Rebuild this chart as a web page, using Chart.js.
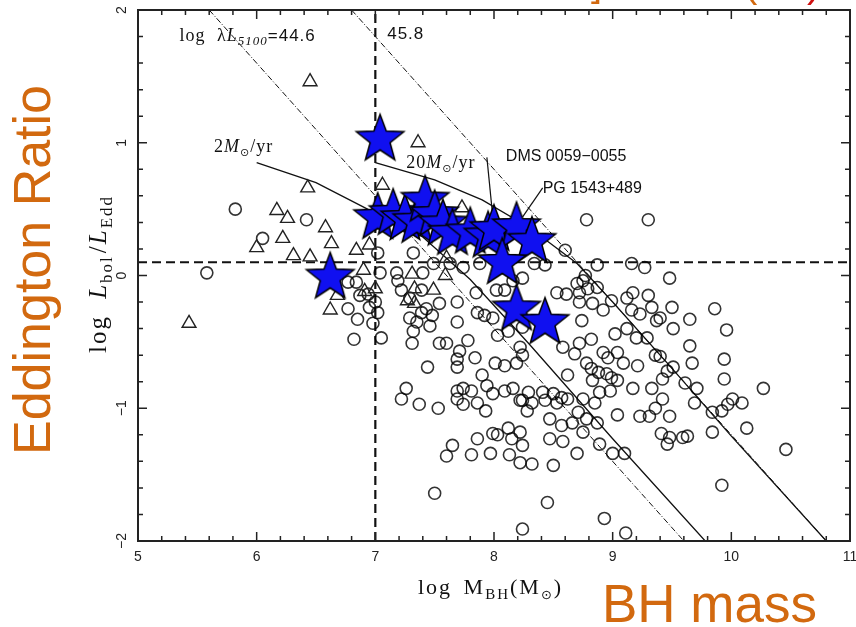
<!DOCTYPE html>
<html>
<head>
<meta charset="utf-8">
<script src="https://cdn.jsdelivr.net/npm/chart.js@4.4.1/dist/chart.umd.min.js"></script>
<style>
html, body { margin: 0; padding: 0; background: #fff; }
</style>
</head>
<body>
<canvas id="chart" width="856" height="627"></canvas>
<script>

// log M_BH, log L_bol/L_Edd
var starPoints = [
	[7.04, 1.04], [6.62, 0.00], [7.02, 0.45], [7.15, 0.48], [7.25, 0.44], [7.35, 0.42],
	[7.42, 0.58], [7.50, 0.47], [7.57, 0.40], [7.65, 0.33], [7.80, 0.34], [7.95, 0.31],
	[8.00, 0.36], [8.19, 0.38], [8.32, 0.27], [8.07, 0.11], [8.19, -0.24], [8.43, -0.34]
];

var trianglePoints = [
	[6.45, 1.46], [7.36, 1.00], [6.43, 0.66], [7.06, 0.68], [6.17, 0.49], [6.26, 0.43],
	[6.58, 0.36], [6.00, 0.21], [6.22, 0.28], [6.63, 0.24], [6.84, 0.19], [6.95, 0.23],
	[6.31, 0.15], [6.45, 0.14], [7.73, 0.51], [7.60, 0.13], [5.43, -0.36], [6.90, 0.04],
	[6.68, -0.15], [6.62, -0.26], [6.91, -0.12], [7.00, -0.10], [7.31, 0.01], [7.33, -0.10],
	[7.27, -0.19], [7.49, -0.11], [7.59, 0.00], [7.33, -0.21]
];

var circlePoints = [
	[5.82, 0.50], [6.42, 0.42], [6.05, 0.28], [5.58, 0.02], [6.77, -0.05], [6.84, -0.05],
	[6.87, -0.15], [6.94, -0.14], [6.95, -0.24], [6.77, -0.25], [6.85, -0.33], [6.82, -0.48],
	[6.98, -0.36], [7.02, 0.17], [7.32, 0.17], [7.49, 0.09], [7.63, 0.09], [7.74, 0.06],
	[7.88, 0.09], [7.04, 0.02], [7.18, 0.02], [7.19, -0.04], [7.40, 0.02], [7.00, -0.20],
	[7.02, -0.28], [7.05, -0.47], [7.22, -0.11], [7.29, -0.17], [7.39, -0.11], [7.43, -0.25],
	[7.48, -0.30], [7.54, -0.21], [7.39, -0.28], [7.35, -0.35], [7.46, -0.38], [7.29, -0.32],
	[7.32, -0.42], [7.31, -0.51], [7.54, -0.51], [7.60, -0.51], [7.78, -0.49], [7.71, -0.57],
	[7.69, -0.63], [7.84, -0.62], [7.69, -0.69], [7.44, -0.69], [7.69, -0.20], [7.69, -0.35],
	[7.85, -0.13], [7.86, -0.28], [7.92, -0.30], [8.02, -0.11], [7.99, -0.32], [8.03, -0.45],
	[8.12, -0.42], [8.24, -0.39], [8.22, -0.54], [8.24, -0.60], [8.01, -0.66], [8.09, -0.68],
	[8.19, -0.66], [7.90, -0.75], [7.94, -0.83], [7.26, -0.85], [7.22, -0.93], [7.37, -0.97],
	[7.53, -1.00], [7.69, -0.87], [7.74, -0.85], [7.81, -0.87], [7.69, -0.93], [7.74, -0.97],
	[7.86, -0.96], [7.93, -1.02], [7.99, -0.89], [8.09, -0.87], [8.16, -0.85], [8.22, -0.94],
	[8.28, -1.02], [7.86, -1.23], [7.99, -1.19], [8.03, -1.20], [8.12, -1.15], [8.15, -1.23],
	[8.22, -1.18], [8.24, -1.28], [7.65, -1.28], [7.60, -1.36], [7.81, -1.35], [7.97, -1.34],
	[8.13, -1.35], [8.22, -1.41], [7.50, -1.64], [8.24, -1.91], [8.09, -0.11], [8.16, -0.04],
	[8.24, -0.02], [8.34, 0.09], [8.43, 0.08], [8.60, 0.19], [8.78, 0.42], [9.30, 0.42],
	[8.87, 0.08], [9.16, 0.09], [9.27, 0.06], [8.77, 0.00], [9.48, -0.02], [8.70, -0.06],
	[8.75, -0.04], [8.53, -0.13], [8.61, -0.14], [8.72, -0.13], [8.79, -0.10], [8.87, -0.09],
	[8.72, -0.20], [8.83, -0.21], [8.92, -0.26], [8.99, -0.19], [9.12, -0.17], [9.17, -0.13],
	[9.30, -0.15], [9.33, -0.24], [9.40, -0.32], [9.50, -0.24], [9.51, -0.40], [9.23, -0.29],
	[8.74, -0.34], [9.02, -0.44], [9.12, -0.40], [9.16, -0.26], [9.20, -0.47], [9.29, -0.47],
	[9.37, -0.34], [9.36, -0.60], [9.40, -0.61], [9.46, -0.72], [9.51, -0.69], [8.58, -0.54],
	[8.68, -0.59], [8.72, -0.51], [8.82, -0.48], [8.92, -0.58], [8.96, -0.62], [9.04, -0.58],
	[9.09, -0.66], [9.21, -0.68], [8.78, -0.66], [8.82, -0.70], [8.88, -0.73], [8.95, -0.74],
	[8.99, -0.77], [9.04, -0.79], [8.62, -0.75], [8.83, -0.79], [9.17, -0.85], [9.33, -0.85],
	[9.42, -0.78], [8.29, -0.88], [8.41, -0.88], [8.50, -0.89], [8.57, -0.92], [8.62, -0.93],
	[8.75, -0.93], [8.85, -0.96], [8.89, -0.88], [8.98, -0.87], [9.42, -0.93], [9.36, -1.00],
	[9.31, -1.06], [9.23, -1.06], [9.48, -1.06], [9.04, -1.05], [8.24, -0.94], [8.32, -0.96],
	[8.43, -0.94], [8.53, -0.96], [8.47, -1.08], [8.71, -1.03], [8.78, -1.08], [8.87, -1.11],
	[8.66, -1.11], [8.75, -1.18], [8.57, -1.13], [8.47, -1.23], [8.58, -1.25], [8.89, -1.27],
	[8.70, -1.34], [9.00, -1.34], [9.10, -1.34], [8.32, -1.42], [8.50, -1.43], [9.41, -1.19],
	[9.46, -1.27], [9.48, -1.22], [9.59, -1.22], [9.63, -1.21], [8.45, -1.71], [8.93, -1.83],
	[9.11, -1.94], [9.86, -0.25], [9.65, -0.33], [9.96, -0.41], [9.65, -0.53], [9.67, -0.66],
	[9.94, -0.63], [9.94, -0.78], [10.27, -0.85], [9.61, -0.81], [9.71, -0.85], [9.69, -0.96],
	[9.84, -1.03], [9.92, -1.02], [9.97, -0.97], [10.01, -0.93], [10.09, -0.96], [9.84, -1.18],
	[10.13, -1.15], [10.46, -1.31], [9.92, -1.58]
];

// constant luminosity lines (dash-dot) and accretion rate curves (solid)
var lum446 = [[5.60, 2.0], [9.60, -2.0]];
var lum458 = [[6.80, 2.0], [10.80, -2.0]];
var rate2 = [[6.0, 0.85], [6.5, 0.70], [7.0, 0.47], [7.4, 0.29], [7.8, -0.03], [8.3, -0.52], [9.0, -1.23], [9.78, -2.0]];
var rate20 = [[7.0, 0.85], [7.5, 0.72], [7.9, 0.57], [8.3, 0.36], [8.7, 0.09], [9.0, -0.20], [9.5, -0.70], [10.0, -1.21], [10.8, -2.0]];
var cutMass = 7.0;
var cutRatio = 0.1;
var leaderDMS = [[7.94, 0.89], [7.99, 0.44]];
var leaderPG = [[8.41, 0.66], [8.24, 0.44]];

var xTicks = [5, 6, 7, 8, 9, 10, 11];
var yTicks = [-2, -1, 0, 1, 2];

function pts(list) {
	return list.map(function(p) { return { x: p[0], y: p[1] }; });
}

var serif = '"Liberation Serif", "DejaVu Serif", serif';
var sans = '"Liberation Sans", Arial, sans-serif';
var orange = '#d2690f';

// five point star used as point style
function makeStar(R) {
	var c = document.createElement('canvas');
	var s = Math.ceil(R * 2 + 4);
	c.width = s; c.height = s;
	var g = c.getContext('2d');
	var r = R * 0.42;
	g.beginPath();
	for (var i = 0; i < 10; i++) {
		var a = -Math.PI / 2 + i * Math.PI / 5;
		var rr = (i % 2 === 0) ? R : r;
		var px = s / 2 + rr * Math.cos(a);
		var py = s / 2 + 2 + rr * Math.sin(a);
		if (i === 0) g.moveTo(px, py); else g.lineTo(px, py);
	}
	g.closePath();
	g.fillStyle = '#1010f0';
	g.fill();
	g.lineWidth = 1.5;
	g.strokeStyle = '#000';
	g.stroke();
	return c;
}

function lineSet(list, dash, width) {
	return {
		data: pts(list),
		showLine: true,
		pointRadius: 0,
		borderColor: '#111',
		borderWidth: width,
		borderDash: dash,
		fill: false
	};
}

function drawParts(ctx, parts, x, y) {
	parts.forEach(function(p) {
		ctx.font = p.font;
		ctx.fillText(p.t, x, y + (p.dy || 0));
		x += ctx.measureText(p.t).width + (p.gap || 0);
	});
}

function partsWidth(ctx, parts) {
	var w = 0;
	parts.forEach(function(p) {
		ctx.font = p.font;
		w += ctx.measureText(p.t).width + (p.gap || 0);
	});
	return w;
}

function noPad(s) {
	s.paddingTop = 0; s.paddingBottom = 0; s.paddingLeft = 0; s.paddingRight = 0;
}

// inward ticks on all four sides plus the frame
var frameTicks = {
	id: 'frameTicks',
	afterDatasetsDraw: function(chart) {
		var ctx = chart.ctx, a = chart.chartArea;
		var xs = chart.scales.x, ys = chart.scales.y;
		ctx.save();
		ctx.strokeStyle = '#222';
		ctx.lineWidth = 1.5;
		ctx.beginPath();
		for (var i = 0; i <= 30; i++) {
			var px = xs.getPixelForValue(5 + i / 5);
			var len = (i % 5 === 0) ? 9 : 5;
			ctx.moveTo(px, a.bottom); ctx.lineTo(px, a.bottom - len);
			ctx.moveTo(px, a.top); ctx.lineTo(px, a.top + len);
		}
		for (var j = 0; j <= 20; j++) {
			var py = ys.getPixelForValue(-2 + j / 5);
			var len2 = (j % 5 === 0) ? 9 : 5;
			ctx.moveTo(a.left, py); ctx.lineTo(a.left + len2, py);
			ctx.moveTo(a.right, py); ctx.lineTo(a.right - len2, py);
		}
		ctx.stroke();
		ctx.lineWidth = 2;
		ctx.strokeRect(a.left, a.top, a.right - a.left, a.bottom - a.top);
		ctx.restore();
	}
};

// annotations, axis titles and slide captions
var textLayer = {
	id: 'textLayer',
	afterDraw: function(chart) {
		var ctx = chart.ctx;
		var xs = chart.scales.x, ys = chart.scales.y;
		function X(v) { return xs.getPixelForValue(v); }
		function Y(v) { return ys.getPixelForValue(v); }
		ctx.save();
		ctx.fillStyle = '#111';
		ctx.textBaseline = 'alphabetic';
		ctx.textAlign = 'left';
		ctx.letterSpacing = '1px';

		drawParts(ctx, [
			{ t: 'log ', font: '18px ' + serif, gap: 6 },
			{ t: '\u03bb', font: '18px ' + serif },
			{ t: 'L', font: 'italic 18px ' + serif },
			{ t: '5100', font: 'italic 13px ' + serif, dy: 4 },
			{ t: '=44.6', font: '17px ' + sans }
		], X(5.35), Y(1.77));
		drawParts(ctx, [{ t: '45.8', font: '17px ' + sans }], X(7.10), Y(1.78));
		drawParts(ctx, [
			{ t: '2', font: '18px ' + serif },
			{ t: 'M', font: 'italic 18px ' + serif },
			{ t: '\u2299', font: '11px "DejaVu Sans"', dy: 4 },
			{ t: '/yr', font: '18px ' + serif }
		], X(5.64), Y(0.93));
		drawParts(ctx, [
			{ t: '20', font: '18px ' + serif },
			{ t: 'M', font: 'italic 18px ' + serif },
			{ t: '\u2299', font: '11px "DejaVu Sans"', dy: 4 },
			{ t: '/yr', font: '18px ' + serif }
		], X(7.26), Y(0.81));
		ctx.letterSpacing = '0px';
		drawParts(ctx, [{ t: 'DMS 0059\u22120055', font: '16px ' + sans }], X(8.10), Y(0.86));
		drawParts(ctx, [{ t: 'PG 1543+489', font: '16px ' + sans }], X(8.41), Y(0.62));

		// x title
		ctx.letterSpacing = '2px';
		var xt = [
			{ t: 'log ', font: '22px ' + serif, gap: 4 },
			{ t: 'M', font: '22px ' + serif },
			{ t: 'BH', font: '15px ' + serif, dy: 5 },
			{ t: '(M', font: '22px ' + serif },
			{ t: '\u2299', font: '13px "DejaVu Sans"', dy: 5 },
			{ t: ')', font: '22px ' + serif }
		];
		drawParts(ctx, xt, 418, 594);

		// y title, rotated
		var yt = [
			{ t: 'log ', font: '25px ' + serif, gap: 8 },
			{ t: 'L', font: 'italic 25px ' + serif },
			{ t: 'bol', font: '17px ' + serif, dy: 6, gap: 2 },
			{ t: '/', font: '25px ' + serif },
			{ t: 'L', font: 'italic 25px ' + serif },
			{ t: 'Edd', font: '17px ' + serif, dy: 6 }
		];
		ctx.save();
		ctx.translate(106, 274 + partsWidth(ctx, yt) / 2);
		ctx.rotate(-Math.PI / 2);
		drawParts(ctx, yt, 0, 0);
		ctx.restore();
		ctx.letterSpacing = '0px';

		// slide captions
		ctx.fillStyle = orange;
		ctx.font = '53px ' + sans;
		ctx.fillText('BH mass', 602, 622);
		ctx.save();
		ctx.translate(50, 270);
		ctx.rotate(-Math.PI / 2);
		ctx.textAlign = 'center';
		ctx.font = '52px ' + sans;
		ctx.fillText('Eddington Ratio', 0, 0);
		ctx.restore();

		// bottom edge of the slide heading cut off by the frame
		ctx.font = '40px ' + sans;
		ctx.fillText(']', 591, -4);
		ctx.fillText('(', 744, -3);
		ctx.fillStyle = '#d01010';
		ctx.fillText(')', 807, -3);
		ctx.restore();
	}
};

var ctx = document.getElementById('chart');

var datasets = [
	{
		data: pts(starPoints),
		pointStyle: makeStar(25),
		pointRadius: 25
	},
	{
		data: pts(trianglePoints),
		pointStyle: 'triangle',
		pointRadius: 8,
		borderColor: '#222',
		borderWidth: 1.4,
		backgroundColor: 'transparent'
	},
	{
		data: pts(circlePoints),
		pointStyle: 'circle',
		pointRadius: 6,
		borderColor: 'rgba(0,0,0,0.8)',
		borderWidth: 1.6,
		backgroundColor: 'transparent'
	},
	lineSet(leaderDMS, [], 1.2),
	lineSet(leaderPG, [], 1.2),
	lineSet(rate2, [], 1.3),
	lineSet(rate20, [], 1.3),
	lineSet(lum446, [6, 2, 1, 2], 1),
	lineSet(lum458, [6, 2, 1, 2], 1),
	lineSet([[cutMass, -2], [cutMass, 2]], [9, 5], 2.2),
	lineSet([[5, cutRatio], [11, cutRatio]], [9, 5], 2.2)
];

var chart = new Chart(ctx, {
	type: 'scatter',
	data: { datasets: datasets },
	options: {
		responsive: false,
		animation: false,
		layout: { autoPadding: false, padding: { top: 10, right: 6, left: 0, bottom: 0 } },
		plugins: {
			legend: { display: false },
			tooltip: { enabled: false }
		},
		scales: {
			x: {
				type: 'linear',
				min: 5,
				max: 11,
				afterBuildTicks: function(s) { s.ticks = xTicks.map(function(v) { return { value: v }; }); },
				afterFit: function(s) { s.height = 86; noPad(s); },
				grid: { display: false, drawTicks: false },
				border: { display: false },
				ticks: { padding: 8, color: '#222', font: { family: sans, size: 14 } }
			},
			y: {
				type: 'linear',
				min: -2,
				max: 2,
				afterBuildTicks: function(s) { s.ticks = yTicks.map(function(v) { return { value: v }; }); },
				afterFit: function(s) { s.width = 138; noPad(s); },
				grid: { display: false, drawTicks: false },
				border: { display: false },
				ticks: {
					padding: 8,
					minRotation: 90,
					maxRotation: 90,
					crossAlign: 'center',
					color: '#222',
					font: { family: sans, size: 14 },
					callback: function(v) { return v < 0 ? '\u2212' + Math.abs(v) : String(v); }
				}
			}
		}
	},
	plugins: [frameTicks, textLayer]
});

</script>
</body>
</html>
